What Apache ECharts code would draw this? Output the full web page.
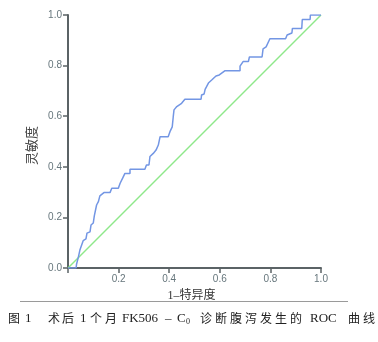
<!DOCTYPE html>
<html>
<head>
<meta charset="utf-8">
<script src="https://cdn.jsdelivr.net/npm/echarts@6/dist/echarts.min.js"></script>
<style>
  html, body { margin: 0; padding: 0; background: #fff; }
  #chart { width: 378px; height: 342px; }
</style>
</head>
<body>
<div id="chart"></div>
<script>
// ROC curve: 1 - specificity (x) against sensitivity (y)
const fpr = [0, 0.032, 0.034, 0.041, 0.047, 0.054, 0.060, 0.071, 0.075, 0.087, 0.091, 0.100, 0.104, 0.111,
  0.113, 0.120, 0.126, 0.142, 0.166, 0.173, 0.199, 0.206, 0.216, 0.225, 0.245, 0.245, 0.304, 0.310, 0.320,
  0.324, 0.337, 0.348, 0.357, 0.364, 0.396, 0.403, 0.412, 0.416, 0.419, 0.430, 0.449, 0.462, 0.526, 0.528,
  0.538, 0.542, 0.555, 0.568, 0.585, 0.598, 0.621, 0.680, 0.680, 0.692, 0.713, 0.717, 0.767, 0.771, 0.783,
  0.798, 0.860, 0.866, 0.885, 0.887, 0.924, 0.926, 0.957, 0.958, 1.0];
const tpr = [0, 0, 0.016, 0.043, 0.071, 0.091, 0.108, 0.115, 0.138, 0.143, 0.170, 0.178, 0.206, 0.206,
  0.249, 0.262, 0.285, 0.298, 0.298, 0.315, 0.315, 0.335, 0.355, 0.374, 0.374, 0.390, 0.390, 0.407, 0.407,
  0.441, 0.453, 0.466, 0.486, 0.519, 0.519, 0.539, 0.558, 0.598, 0.625, 0.638, 0.651, 0.667, 0.667, 0.684,
  0.688, 0.706, 0.731, 0.743, 0.759, 0.763, 0.780, 0.780, 0.798, 0.816, 0.816, 0.834, 0.834, 0.866, 0.874,
  0.906, 0.906, 0.921, 0.929, 0.947, 0.947, 0.982, 0.982, 1.0, 1.0];
// Reference line of no discrimination
const refX = [0, 1];
const refY = [0, 1];

const xTicks = ['0.2', '0.4', '0.6', '0.8', '1.0'];
const yTicks = ['0.0', '0.2', '0.4', '0.6', '0.8', '1.0'];

const xName = '1–特异度';
const yName = '灵敏度';

// Figure caption, as [text, style, box width] runs (style "s" is the subscript)
const captionRuns = [
  ['图', 'c', 17], ['1', 'l', 23],
  ['术', 'c', 14], ['后', 'c', 18], ['1', 'l', 10], ['个', 'c', 15], ['月', 'c', 17],
  ['FK506', 'l', 43], ['–', 'l', 12], ['C', 'l', 9], ['0', 's', 14],
  ['诊', 'c', 15], ['断', 'c', 15], ['腹', 'c', 15], ['泻', 'c', 15], ['发', 'c', 15], ['生', 'c', 15], ['的', 'c', 20],
  ['ROC', 'l', 38], ['曲', 'c', 15], ['线', 'c', 15]
];

const chart = echarts.init(document.getElementById('chart'), null, { renderer: 'canvas' });

const axisColor = '#5b6366';
const labelColor = '#66767c';

// One rich style per run so each run gets its own box width
const rich = {};
const baseStyles = {
  c: { fontSize: 12, fontFamily: 'Noto Sans CJK SC', fill: '#222' },
  l: { fontSize: 13, fontFamily: 'Liberation Serif', fill: '#222' },
  s: { fontSize: 8, fontFamily: 'Liberation Serif', fill: '#222', verticalAlign: 'bottom', padding: [6, 0, 0, 0] }
};
const captionText = captionRuns.map(([t, st, w], i) => {
  rich['r' + i] = Object.assign({}, baseStyles[st], { width: w });
  return '{r' + i + '|' + t + '}';
}).join('');

chart.setOption({
  animation: false,
  backgroundColor: '#fff',
  grid: { left: 68, right: 57, top: 15, bottom: 74, containLabel: false },
  xAxis: {
    type: 'value', min: 0, max: 1, interval: 0.2,
    name: xName, nameLocation: 'middle', nameGap: 22,
    nameTextStyle: { color: '#333', fontSize: 12, fontFamily: 'Liberation Serif, Noto Sans CJK SC', padding: [0, 6, 0, 0] },
    axisLine: { show: true, onZero: false, lineStyle: { color: axisColor, width: 2 } },
    axisTick: { show: true, length: 5, lineStyle: { color: axisColor, width: 1.5 } },
    axisLabel: {
      color: labelColor, fontSize: 10, fontFamily: 'Liberation Sans', margin: 6,
      formatter: v => xTicks.includes(v.toFixed(1)) ? v.toFixed(1) : ''
    },
    splitLine: { show: false }
  },
  yAxis: {
    type: 'value', min: 0, max: 1, interval: 0.2,
    name: yName, nameLocation: 'middle', nameGap: 20, nameRotate: 90,
    nameTextStyle: { color: '#444', fontSize: 13, fontFamily: 'Noto Sans CJK SC', padding: [0, 8, 0, 0] },
    axisLine: { show: true, onZero: false, lineStyle: { color: axisColor, width: 2 } },
    axisTick: { show: true, length: 5, lineStyle: { color: axisColor, width: 1.5 } },
    axisLabel: {
      color: labelColor, fontSize: 10, fontFamily: 'Liberation Sans', margin: 6,
      formatter: v => yTicks.includes(v.toFixed(1)) ? v.toFixed(1) : ''
    },
    splitLine: { show: false }
  },
  series: [
    {
      type: 'line', name: 'reference', showSymbol: false, silent: true,
      data: refX.map((x, i) => [x, refY[i]]),
      lineStyle: { color: '#8ee88a', width: 1.5 }, z: 2
    },
    {
      type: 'line', name: 'ROC', showSymbol: false, silent: true,
      data: fpr.map((x, i) => [x, tpr[i]]),
      lineStyle: { color: '#7396e4', width: 1.5 }, z: 3
    }
  ],
  graphic: [
    {
      type: 'line', silent: true,
      shape: { x1: 20, y1: 301.5, x2: 348, y2: 301.5 },
      style: { stroke: '#9a9a9a', lineWidth: 1 }
    },
    {
      type: 'text', silent: true, left: 8, top: 312,
      style: { text: captionText, rich: rich }
    }
  ]
});
</script>
</body>
</html>
